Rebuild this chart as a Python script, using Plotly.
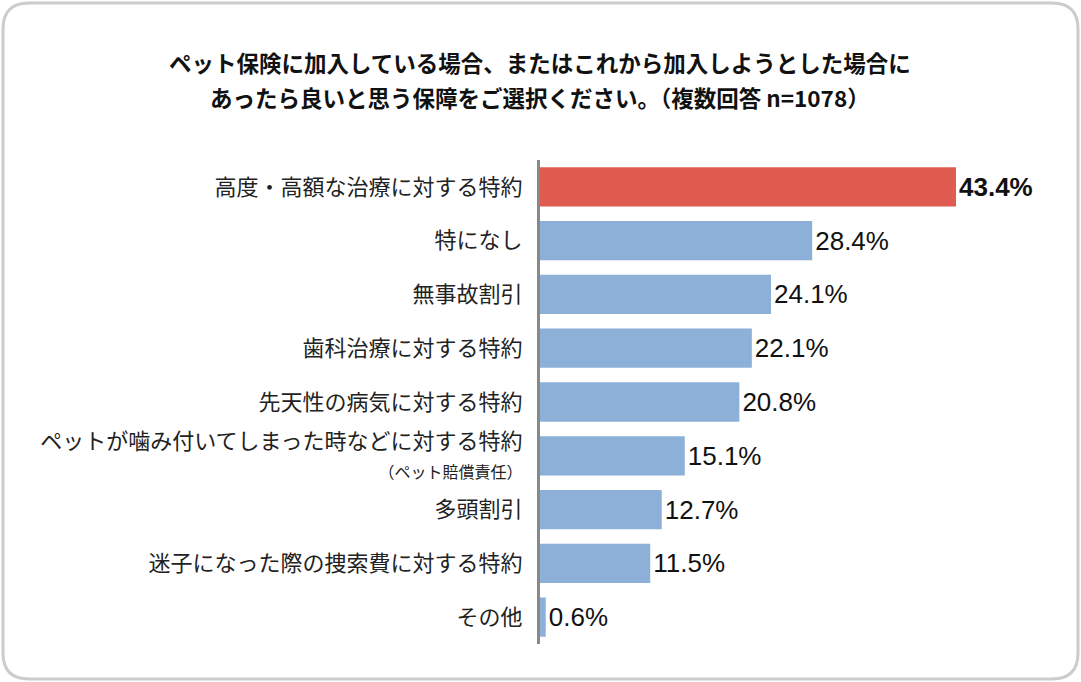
import plotly.graph_objects as go

# survey answers, top to bottom as drawn
categories = [
    "高度・高額な治療に対する特約",
    "特になし",
    "無事故割引",
    "歯科治療に対する特約",
    "先天性の病気に対する特約",
    "ペットが噛み付いてしまった時などに対する特約",
    "多頭割引",
    "迷子になった際の捜索費に対する特約",
    "その他",
]
sub_notes = ["", "", "", "", "", "（ペット賠償責任）", "", "", ""]
percent = [43.4, 28.4, 24.1, 22.1, 20.8, 15.1, 12.7, 11.5, 0.6]

TITLE_LINES = ["ペット保険に加入している場合、またはこれから加入しようとした場合に",
               "あったら良いと思う保障をご選択ください。（複数回答 n=1078）"]

RED = "#E05B50"
BLUE = "#8CB0D8"
JP = "Noto Sans CJK JP"

W, H = 1081, 682
L, R, T, B = 540, 62, 160, 38
PW, PH = W - L - R, H - T - B


def px_x(v):
    return (v - L) / PW


def px_y(v):
    return (H - B - v) / PH


def rounded_box(x0, y0, x1, y1, r):
    """rounded rectangle path in paper coords from pixel corners"""
    pts = [
        f"M {px_x(x0 + r)} {px_y(y0)}",
        f"L {px_x(x1 - r)} {px_y(y0)}",
        f"Q {px_x(x1)} {px_y(y0)} {px_x(x1)} {px_y(y0 + r)}",
        f"L {px_x(x1)} {px_y(y1 - r)}",
        f"Q {px_x(x1)} {px_y(y1)} {px_x(x1 - r)} {px_y(y1)}",
        f"L {px_x(x0 + r)} {px_y(y1)}",
        f"Q {px_x(x0)} {px_y(y1)} {px_x(x0)} {px_y(y1 - r)}",
        f"L {px_x(x0)} {px_y(y0 + r)}",
        f"Q {px_x(x0)} {px_y(y0)} {px_x(x0 + r)} {px_y(y0)}",
        "Z",
    ]
    return " ".join(pts)


ticks = []
for c, n in zip(categories, sub_notes):
    ticks.append(c + (f"<br><span style='font-size:16px'>{n}</span>" if n else ""))

colors = [RED] + [BLUE] * (len(percent) - 1)
texts = [f"<b>{v:.1f}%</b>" if i == 0 else f"{v:.1f}%" for i, v in enumerate(percent)]

fig = go.Figure(go.Bar(
    x=percent, y=ticks, orientation="h",
    marker=dict(color=colors, line=dict(width=0)),
    text=texts, textposition="outside", cliponaxis=False, constraintext="none",
    textfont=dict(family="Liberation Sans, Arial", size=26, color="#111"),
    hoverinfo="skip",
))

title_ann = [dict(text=f"<b>{t}</b>", xref="paper", yref="paper",
                  x=px_x(540), y=px_y(yy), xanchor="center", yanchor="middle",
                  showarrow=False, font=dict(family=JP, size=22.5, color="#111"))
             for t, yy in zip(TITLE_LINES, [62, 97])]

fig.update_layout(
    width=W, height=H,
    margin=dict(l=L, r=R, t=T, b=B),
    paper_bgcolor="white", plot_bgcolor="white",
    bargap=0.27, showlegend=False,
    annotations=title_ann,
    shapes=[dict(type="path", xref="paper", yref="paper",
                 path=rounded_box(3, 3, W - 3, H - 3, 26),
                 line=dict(color="#CCCCCC", width=3), layer="below")],
)
fig.update_xaxes(range=[0, PW / 9.585], visible=False)
fig.update_yaxes(autorange="reversed", showline=True, linecolor="#888888", linewidth=3,
                 ticks="", ticklabelstandoff=10,
                 tickfont=dict(family=JP, size=22, color="#222"))

fig.write_html("out.html", config={"displayModeBar": False},
               post_script="document.body.style.margin='0';")
